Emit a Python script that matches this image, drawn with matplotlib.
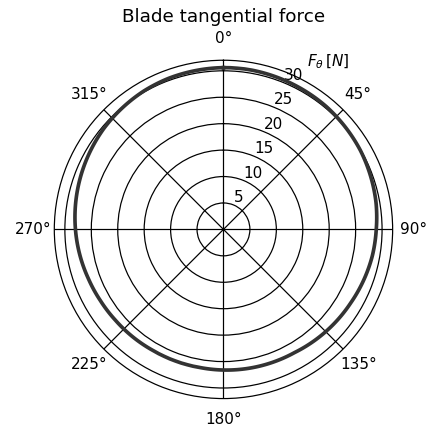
import numpy as np
import matplotlib
matplotlib.use('Agg')
import matplotlib.pyplot as plt

# blade azimuth [deg] and tangential force [N]
theta_deg = [0, 10, 20, 30, 40, 50, 60, 70, 80, 90, 100, 110, 120,
             130, 140, 150, 160, 170, 180, 190, 200, 210, 220, 230, 240,
             250, 260, 270, 280, 290, 300, 310, 320, 330, 340, 350, 360]
f_theta = [30.6, 30.6, 30.5, 30.4, 30.3, 30.1, 29.9, 29.6, 29.3, 28.9, 28.6, 28.2, 27.8,
           27.5, 27.2, 26.9, 26.8, 26.7, 26.6, 26.5, 26.5, 26.5, 26.6, 26.7, 26.9,
           27.2, 27.6, 28.0, 28.4, 28.8, 29.2, 29.6, 29.9, 30.2, 30.4, 30.5, 30.6]
r_ticks = [5, 10, 15, 20, 25, 30]

fig = plt.figure(figsize=(431 / 110, 430 / 110), dpi=110)
ax = fig.add_axes([0.126, 0.073, 0.785, 0.787], projection='polar')
ax.set_theta_zero_location('N')
ax.set_theta_direction(-1)

line, = ax.plot(np.radians(theta_deg), f_theta, color='#333333', linewidth=2.4)
# let the polar transform draw arcs between the samples
line.get_path()._interpolation_steps = 20

ax.set_rlim(0, 32)
ax.set_rticks(r_ticks)
ax.grid(True, color='black', linewidth=0.8)
ax.text(0.81, 0.995, r'$F_\theta\,[N]$', transform=ax.transAxes,
        ha='center', va='center')
ax.set_title('Blade tangential force', fontsize=12)

fig.savefig('out.png', dpi=110)
